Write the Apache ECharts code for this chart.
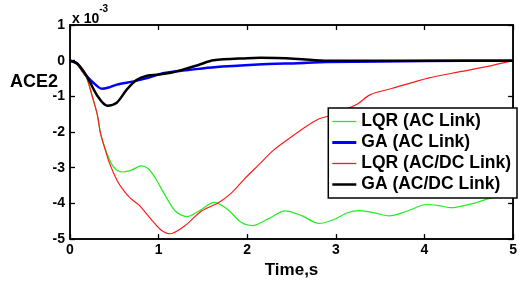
<!DOCTYPE html>
<html>
<head>
<meta charset="utf-8">
<script src="https://cdn.jsdelivr.net/npm/echarts@6/dist/echarts.min.js"></script>
<style>
  html, body { margin: 0; padding: 0; background: #fff; }
  #chart { width: 520px; height: 284px; }
</style>
</head>
<body>
<div id="chart"></div>
<script>
// values in units of 1e-3
const xTicks = [0, 1, 2, 3, 4, 5];
const yTicks = [1, 0, -1, -2, -3, -4, -5];

const tLqrAc = [0, 0.08, 0.14, 0.19, 0.25, 0.31, 0.34, 0.38, 0.42, 0.47, 0.53, 0.6, 0.7, 0.8, 0.88, 0.96, 1.07, 1.19, 1.32, 1.45, 1.63, 1.78, 1.93, 2.06, 2.23, 2.43, 2.62, 2.81, 2.98, 3.13, 3.27, 3.45, 3.6, 3.8, 4.02, 4.16, 4.3, 4.55, 4.84, 5.0];
const vLqrAc = [0, -0.1, -0.31, -0.49, -0.99, -1.53, -1.99, -2.35, -2.62, -2.9, -3.07, -3.12, -3.06, -2.95, -3.02, -3.28, -3.76, -4.22, -4.37, -4.22, -3.97, -4.17, -4.53, -4.62, -4.44, -4.21, -4.35, -4.56, -4.45, -4.26, -4.2, -4.27, -4.35, -4.22, -4.03, -4.06, -4.12, -4.0, -3.81, -3.82];

const tGaAc = [0, 0.08, 0.19, 0.31, 0.36, 0.45, 0.53, 0.72, 0.87, 1.05, 1.3, 1.6, 2.12, 2.57, 2.9, 3.5, 4.0, 5.0];
const vGaAc = [0, -0.08, -0.44, -0.72, -0.79, -0.74, -0.67, -0.58, -0.49, -0.35, -0.27, -0.19, -0.11, -0.07, -0.04, -0.02, -0.01, 0];

const tLqrAcdc = [0, 0.08, 0.14, 0.19, 0.25, 0.31, 0.34, 0.38, 0.45, 0.53, 0.6, 0.68, 0.78, 0.93, 1.03, 1.13, 1.3, 1.48, 1.67, 1.82, 1.97, 2.12, 2.3, 2.45, 2.66, 2.8, 2.92, 3.05, 3.24, 3.39, 3.63, 4.04, 4.42, 4.77, 5.0];
const vLqrAcdc = [0, -0.1, -0.31, -0.49, -0.99, -1.53, -1.99, -2.35, -2.9, -3.35, -3.62, -3.85, -4.05, -4.49, -4.75, -4.85, -4.62, -4.22, -3.99, -3.71, -3.31, -2.94, -2.5, -2.22, -1.85, -1.64, -1.55, -1.42, -1.22, -0.95, -0.78, -0.49, -0.3, -0.13, 0];

const tGaAcdc = [0, 0.08, 0.19, 0.31, 0.42, 0.53, 0.64, 0.75, 0.87, 1.0, 1.15, 1.3, 1.45, 1.62, 2.0, 2.15, 2.57, 2.9, 3.5, 5.0];
const vGaAcdc = [0, -0.08, -0.44, -0.99, -1.26, -1.17, -0.81, -0.54, -0.42, -0.39, -0.33, -0.23, -0.12, 0.01, 0.07, 0.08, 0.05, 0.0, 0.0, 0];

const seriesNames = ['LQR (AC Link)', 'GA (AC Link)', 'LQR (AC/DC Link)', 'GA (AC/DC Link)'];

const font = "'Liberation Sans', Arial, sans-serif";

function pairs(ts, vs) {
  return ts.map((t, i) => [t, vs[i]]);
}

function lineSeries(name, data, color, width) {
  return {
    name,
    type: 'line',
    data,
    smooth: 0.3,
    symbol: 'none',
    lineStyle: { color, width },
    itemStyle: { color },
    z: 3
  };
}

const tickLabel = { color: '#000', fontFamily: font, fontWeight: 'bold', fontSize: 14 };

// every axis draws its own line and inward ticks
function axisBase(position, ticks) {
  return {
    type: 'value',
    position,
    min: Math.min(...ticks),
    max: Math.max(...ticks),
    interval: 1,
    axisLine: { show: true, onZero: false, lineStyle: { color: '#000', width: 1.5 } },
    axisTick: { show: true, inside: true, length: 5, lineStyle: { color: '#000', width: 1.3 } },
    axisLabel: { show: false },
    splitLine: { show: false }
  };
}

const chart = echarts.init(document.getElementById('chart'), null, { renderer: 'canvas' });

chart.setOption({
  animation: false,
  backgroundColor: '#fff',
  textStyle: { fontFamily: font },
  grid: {
    left: 70, right: 3, top: 25, bottom: 39,
    show: true,
    borderColor: '#000',
    borderWidth: 1.5,
    backgroundColor: 'transparent'
  },
  xAxis: [
    {
      ...axisBase('bottom', xTicks),
      name: 'Time,s',
      nameLocation: 'middle',
      nameGap: 19,
      nameTextStyle: { fontFamily: font, fontWeight: 'bold', fontSize: 17, color: '#000' },
      axisLabel: { ...tickLabel, margin: 4 }
    },
    axisBase('top', xTicks)
  ],
  yAxis: [
    {
      ...axisBase('left', yTicks),
      axisLabel: { ...tickLabel, margin: 5 }
    },
    axisBase('right', yTicks)
  ],
  legend: {
    data: [
      { name: seriesNames[0], icon: 'path://M0 0H24V1.3H0Z' },
      { name: seriesNames[1], icon: 'path://M0 0H24V3H0Z' },
      { name: seriesNames[2], icon: 'path://M0 0H24V1.3H0Z' },
      { name: seriesNames[3], icon: 'path://M0 0H24V2.5H0Z' }
    ],
    orient: 'vertical',
    right: 3,
    top: 108,
    backgroundColor: '#fff',
    borderColor: '#000',
    borderWidth: 1.5,
    borderRadius: 0,
    padding: [3, 6, 3, 4],
    itemGap: 0,
    itemWidth: 24,
    itemHeight: 21,
    symbolKeepAspect: true,
    textStyle: { fontFamily: font, fontWeight: 'bold', fontSize: 17.5, color: '#000', lineHeight: 21 },
    z: 10
  },
  graphic: [
    {
      type: 'text',
      left: 10,
      top: 73,
      style: { text: 'ACE2', font: "bold 18px 'Liberation Sans', Arial, sans-serif", fill: '#000' }
    },
    {
      type: 'text',
      left: 72,
      top: 4,
      style: {
        text: '{a|x 10}{b|-3}',
        rich: {
          a: { font: "bold 14px 'Liberation Sans', Arial, sans-serif", fill: '#000', padding: [8, 0, 0, 0] },
          b: { font: "bold 10px 'Liberation Sans', Arial, sans-serif", fill: '#000', verticalAlign: 'top' }
        }
      }
    }
  ],
  series: [
    lineSeries(seriesNames[0], pairs(tLqrAc, vLqrAc), '#22ee22', 1.2),
    lineSeries(seriesNames[1], pairs(tGaAc, vGaAc), '#0000ff', 2.5),
    lineSeries(seriesNames[2], pairs(tLqrAcdc, vLqrAcdc), '#ff1a1a', 1.2),
    lineSeries(seriesNames[3], pairs(tGaAcdc, vGaAcdc), '#000000', 2.5)
  ]
});
</script>
</body>
</html>
